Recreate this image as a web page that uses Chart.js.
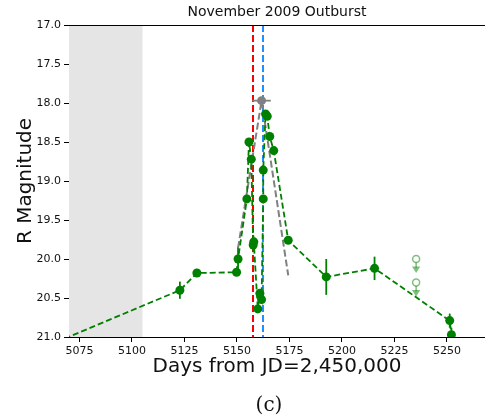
<!DOCTYPE html>
<html>
<head>
<meta charset="utf-8">
<script src="https://cdn.jsdelivr.net/npm/chart.js@4/dist/chart.umd.min.js"></script>
<style>
  html, body { margin: 0; padding: 0; background: #fff; overflow: hidden; }
  #wrap { width: 485px; height: 418px; }
</style>
</head>
<body>
<div id="wrap"><canvas id="c" width="485" height="418" style="width:485px;height:418px"></canvas></div>
<script>
// Tick labels
const xTicks = [5075, 5100, 5125, 5150, 5175, 5200, 5225, 5250];
const yTicks = [17.0, 17.5, 18.0, 18.5, 19.0, 19.5, 20.0, 20.5, 21.0];

// R-band photometry (days from JD 2,450,000), magnitude and 1-sigma error
const obsDay = [5060.0, 5122.8, 5130.9, 5149.8, 5150.5, 5154.7, 5155.7, 5156.8, 5157.7, 5158.0,
                5159.9, 5160.9, 5161.7, 5162.5, 5162.5, 5163.6, 5164.4, 5165.6, 5167.5, 5174.4,
                5192.5, 5215.5, 5251.3, 5252.1];
const obsMag = [21.11, 20.40, 20.18, 20.17, 20.00, 19.23, 18.50, 18.72, 19.82, 19.78,
                20.64, 20.44, 20.52, 19.23, 18.86, 18.14, 18.17, 18.43, 18.61, 19.76,
                20.23, 20.12, 20.79, 20.97];
const obsErr = [0, 0.11, 0, 0, 0.16, 0, 0, 0, 0, 0,
                0, 0, 0, 0, 0, 0, 0, 0, 0, 0,
                0.23, 0.15, 0.09, 0.09];

// Estimated peak of the outburst with its timing uncertainty
const peakDay = [5161.7];
const peakMag = [17.97];
const peakDayErr = [4.4];

// Linear rise / decline profile through the peak
const modelDay = [5150.5, 5161.7, 5174.4];
const modelMag = [19.86, 17.97, 20.21];

// Upper limits (non-detections)
const limDay = [5235.3, 5235.3];
const limMag = [20.00, 20.30];

// Marked epochs and the shaded interval without coverage
const eventDays = [5157.4, 5162.3];
const shadeDays = [5070, 5105];

// Visible day range
const dayRange = [5070, 5268.1];

const GREEN = '#008000';
const LIGHT_GREEN = 'rgba(0,128,0,0.5)';
const eventColors = ['#ff0000', '#1e90ff'];

const pts = (xs, ys) => xs.map((x, i) => ({ x: x, y: ys[i] }));

const backdrop = {
  id: 'backdrop',
  beforeDatasetsDraw(chart) {
    const { ctx, chartArea: a, scales: { x, y } } = chart;
    ctx.save();
    ctx.beginPath();
    ctx.rect(a.left, a.top, a.right - a.left, a.bottom - a.top);
    ctx.clip();
    // shaded interval
    const s0 = x.getPixelForValue(shadeDays[0]);
    const s1 = x.getPixelForValue(shadeDays[1]);
    ctx.fillStyle = '#e5e5e5';
    ctx.fillRect(s0, a.top, s1 - s0, a.bottom - a.top);
    // event lines
    ctx.lineWidth = 2;
    ctx.setLineDash([7, 3]);
    eventDays.forEach((d, i) => {
      const px = Math.round(x.getPixelForValue(d));
      ctx.strokeStyle = eventColors[i];
      ctx.beginPath();
      ctx.moveTo(px, a.top);
      ctx.lineTo(px, a.bottom);
      ctx.stroke();
    });
    ctx.setLineDash([]);
    // magnitude error bars
    ctx.strokeStyle = GREEN;
    ctx.lineWidth = 1.8;
    obsDay.forEach((d, i) => {
      if (!obsErr[i]) return;
      const px = x.getPixelForValue(d);
      ctx.beginPath();
      ctx.moveTo(px, y.getPixelForValue(obsMag[i] - obsErr[i]));
      ctx.lineTo(px, y.getPixelForValue(obsMag[i] + obsErr[i]));
      ctx.stroke();
    });
    // timing error of the peak
    ctx.strokeStyle = '#808080';
    peakDay.forEach((d, i) => {
      const py = y.getPixelForValue(peakMag[i]);
      ctx.beginPath();
      ctx.moveTo(x.getPixelForValue(d - peakDayErr[i]), py);
      ctx.lineTo(x.getPixelForValue(d + peakDayErr[i]), py);
      ctx.stroke();
    });
    ctx.restore();
  },
  afterDatasetsDraw(chart) {
    const { ctx, scales: { x, y } } = chart;
    ctx.save();
    // downward arrows on the upper limits
    ctx.strokeStyle = LIGHT_GREEN;
    ctx.fillStyle = LIGHT_GREEN;
    ctx.lineWidth = 1.5;
    limDay.forEach((d, i) => {
      const px = x.getPixelForValue(d);
      const py = y.getPixelForValue(limMag[i]);
      const tip = py + 14;
      ctx.beginPath();
      ctx.moveTo(px, py + 3.5);
      ctx.lineTo(px, tip - 5);
      ctx.stroke();
      ctx.beginPath();
      ctx.moveTo(px - 4.2, tip - 6.5);
      ctx.lineTo(px + 4.2, tip - 6.5);
      ctx.lineTo(px, tip);
      ctx.closePath();
      ctx.fill();
    });
    ctx.restore();
  },
  afterDraw(chart) {
    const { ctx, chartArea: a } = chart;
    ctx.save();
    // upper frame line
    ctx.strokeStyle = '#000';
    ctx.lineWidth = 1;
    ctx.beginPath();
    ctx.moveTo(a.left, a.top + 0.5);
    ctx.lineTo(a.right, a.top + 0.5);
    ctx.stroke();
    // panel caption
    ctx.fillStyle = '#111';
    ctx.font = '20px "DejaVu Serif"';
    ctx.textAlign = 'center';
    ctx.textBaseline = 'middle';
    ctx.fillText('(c)', 269, 406);
    ctx.restore();
  }
};

const axisCommon = {
  border: { display: true, color: '#000', width: 1 },
  grid: { drawOnChartArea: false, drawTicks: true, tickLength: 5, tickColor: '#000', tickWidth: 1 },
};

new Chart(document.getElementById('c'), {
  type: 'scatter',
  data: {
    datasets: [
      {
        data: pts(obsDay, obsMag),
        showLine: true,
        borderColor: GREEN,
        borderWidth: 1.8,
        borderDash: [6, 3],
        pointRadius: 4.5,
        pointBackgroundColor: GREEN,
        pointBorderColor: GREEN,
        pointBorderWidth: 0,
      },
      {
        data: pts(modelDay, modelMag),
        showLine: true,
        borderColor: '#808080',
        borderWidth: 2,
        borderDash: [7, 3],
        pointRadius: 0,
      },
      {
        data: pts(peakDay, peakMag),
        pointRadius: 4.5,
        pointBackgroundColor: '#808080',
        pointBorderColor: '#808080',
        pointBorderWidth: 0,
      },
      {
        data: pts(limDay, limMag),
        pointRadius: 3.5,
        pointBackgroundColor: 'rgba(0,0,0,0)',
        pointBorderColor: LIGHT_GREEN,
        pointBorderWidth: 1.5,
      }
    ]
  },
  options: {
    responsive: false,
    animation: false,
    devicePixelRatio: 1,
    layout: { autoPadding: false, padding: { left: 0, right: 0, top: 0, bottom: 34 } },
    plugins: {
      legend: { display: false },
      tooltip: { enabled: false },
      title: {
        display: true,
        text: 'November 2009 Outburst',
        fullSize: false,
        color: '#111',
        font: { family: '"DejaVu Sans"', size: 14, weight: 'normal' },
        padding: { top: 4, bottom: 4.2 }
      }
    },
    scales: {
      x: {
        ...axisCommon,
        type: 'linear',
        min: dayRange[0],
        max: dayRange[1],
        afterBuildTicks: s => { s.ticks = xTicks.map(v => ({ value: v })); },
        afterFit: s => { s.height = 47; s.paddingLeft = 0; s.paddingRight = 0; },
        ticks: {
          color: '#111', padding: 3, maxRotation: 0, autoSkip: false,
          font: { family: '"DejaVu Sans"', size: 11 },
          callback: v => String(v)
        },
        title: {
          display: true,
          text: 'Days from JD=2,450,000',
          color: '#111',
          font: { family: '"DejaVu Sans"', size: 20 },
          padding: { top: 0, bottom: 5 }
        }
      },
      y: {
        ...axisCommon,
        type: 'linear',
        reverse: true,
        min: 17,
        max: 21,
        afterBuildTicks: s => { s.ticks = yTicks.map(v => ({ value: v })); },
        afterFit: s => { s.width = 69; },
        ticks: {
          color: '#111', padding: 3, autoSkip: false,
          font: { family: '"DejaVu Sans"', size: 11 },
          callback: v => Number(v).toFixed(1)
        },
        title: {
          display: true,
          text: 'R Magnitude',
          color: '#111',
          font: { family: '"DejaVu Sans"', size: 20 },
          padding: { top: 14, bottom: 0 }
        }
      }
    }
  },
  plugins: [backdrop]
});
</script>
</body>
</html>
